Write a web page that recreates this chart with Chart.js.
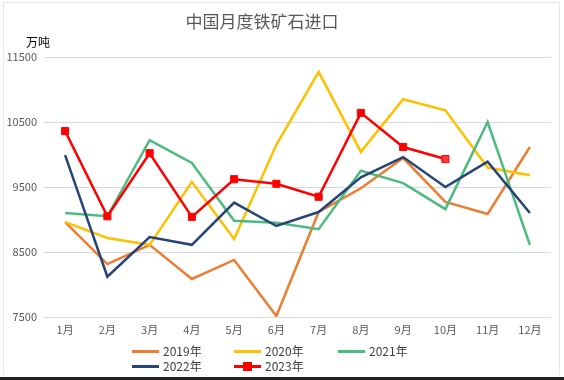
<!DOCTYPE html>
<html>
<head>
<meta charset="utf-8">
<script src="https://cdn.jsdelivr.net/npm/chart.js@4"></script>
<style>
  html, body { margin: 0; padding: 0; background: #fff; }
  #wrap { position: relative; width: 564px; height: 380px; overflow: hidden; font-family: "Noto Sans CJK SC", "Noto Sans", sans-serif; }
  #frame { position: absolute; left: 3px; top: 2px; width: 557px; height: 373px; border: 1px solid #e6e6e6; border-bottom: none; box-sizing: border-box; }
  #bottomline { position: absolute; left: 0; top: 377px; width: 564px; height: 3px; background: #222; }
  canvas { position: absolute; left: 0; top: 0; }
  #title { position: absolute; left: 162px; width: 200px; top: 9px; text-align: center; font-size: 17px; color: #595959; line-height: 24px; }
  #unit { position: absolute; left: 26px; top: 34px; font-size: 12px; color: #000; line-height: 16px; }
  .lg { position: absolute; font-size: 12px; color: #404040; line-height: 14px; height: 14px; }
  .lg .ln { position: absolute; left: 0; top: 6px; width: 27px; height: 3px; }
  .lg .tx { position: absolute; left: 31px; top: 0; white-space: nowrap; }
  .lg .mk { position: absolute; left: 9px; top: 3px; width: 9px; height: 9px; background: #ff0000; }
</style>
</head>
<body>
<div id="wrap">
  <div id="frame"></div>
  <canvas id="c" width="564" height="380"></canvas>
  <div id="title">中国月度铁矿石进口</div>
  <div id="unit">万吨</div>
  <div id="legend"></div>
  <div id="bottomline"></div>
</div>
<script>
const categories = ["1月","2月","3月","4月","5月","6月","7月","8月","9月","10月","11月","12月"];
const seriesNames = ["2019年","2020年","2021年","2022年","2023年"];
const values2019 = [8960, 8315, 8610, 8085, 8378, 7515, 9116, 9480, 9946, 9270, 9085, 10115];
const values2020 = [8960, 8715, 8610, 9580, 8700, 10150, 11270, 10040, 10850, 10680, 9800, 9680];
const values2021 = [9100, 9050, 10220, 9870, 8980, 8950, 8850, 9750, 9560, 9160, 10500, 8610];
const values2022 = [9990, 8120, 8730, 8610, 9260, 8900, 9115, 9650, 9960, 9500, 9890, 9100];
const values2023 = [10360, 9050, 10020, 9040, 9620, 9550, 9350, 10640, 10115, 9930];
const yTicks = [7500, 8500, 9500, 10500, 11500];

const colors = ["#ED7D31", "#FFC000", "#4CBB7F", "#264478", "#FF0000"];
const allValues = [values2019, values2020, values2021, values2022, values2023];

const datasets = allValues.map((vals, i) => ({
  label: seriesNames[i],
  data: vals,
  borderColor: colors[i],
  backgroundColor: colors[i],
  borderWidth: 2.5,
  tension: 0,
  pointRadius: i === 4 ? 5 : 0,
  pointHoverRadius: i === 4 ? 5 : 0,
  pointStyle: 'rect',
  pointBorderWidth: i === 4 ? 1 : 0,
  pointBorderColor: '#FF0000',
  pointBackgroundColor: i === 4 ? vals.map((v, k) => k === vals.length - 1 ? '#FF3B3B' : '#FF0000') : colors[i],
  order: 5 - i
}));

new Chart(document.getElementById('c'), {
  type: 'line',
  data: { labels: categories, datasets },
  options: {
    responsive: false,
    animation: false,
    devicePixelRatio: 1,
    layout: { padding: { left: 0, right: 13, top: 57, bottom: 43 } },
    plugins: { legend: { display: false }, title: { display: false }, tooltip: { enabled: false } },
    scales: {
      x: {
        offset: true,
        grid: { display: false, drawTicks: false },
        border: { display: false },
        ticks: { color: '#595959', font: { size: 11, family: '"Noto Sans CJK SC", sans-serif' }, padding: 6, maxRotation: 0 },
        afterFit: (s) => { s.height = 20; }
      },
      y: {
        min: 7500, max: 11500,
        afterBuildTicks: (s) => { s.ticks = yTicks.map(v => ({ value: v })); },
        grid: { color: '#D9D9D9', lineWidth: 1, drawTicks: false },
        border: { display: false },
        ticks: { color: '#595959', font: { size: 11, family: '"Noto Sans CJK SC", sans-serif' }, padding: 7, callback: (v) => String(v) },
        afterFit: (s) => { s.width = 44; }
      }
    }
  }
});

// HTML legend
const legendPos = [[132, 344], [234, 344], [338, 344], [132, 359], [234, 359]];
const lg = document.getElementById('legend');
seriesNames.forEach((name, i) => {
  const d = document.createElement('div');
  d.className = 'lg';
  d.style.left = legendPos[i][0] + 'px';
  d.style.top = legendPos[i][1] + 'px';
  d.innerHTML = '<div class="ln" style="background:' + colors[i] + '"></div>' +
    (i === 4 ? '<div class="mk"></div>' : '') +
    '<div class="tx">' + name + '</div>';
  lg.appendChild(d);
});
</script>
</body>
</html>
